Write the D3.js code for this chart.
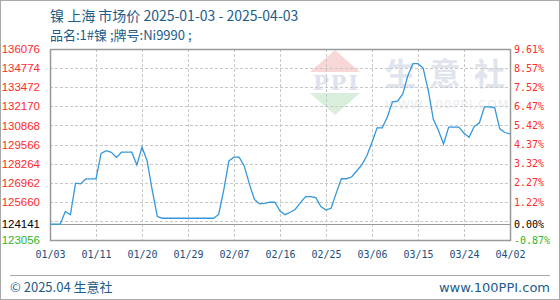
<!DOCTYPE html>
<html>
<head>
<meta charset="utf-8">
<script src="https://cdn.jsdelivr.net/npm/d3@7/dist/d3.min.js"></script>
<style>
  html, body { margin: 0; padding: 0; background: #fff; }
  svg { display: block; }
</style>
</head>
<body>
<div id="chart"></div>
<script>
// x categories: one point per day, labelled every 9th point
var tickLabels = ["01/03", "01/11", "01/20", "01/29", "02/07", "02/16", "02/25", "03/06", "03/15", "03/24", "04/02"];
var priceValues = [
  124141, 124141, 124141, 125000, 124780, 126927, 126880, 127220, 127220, 127220,
  128960, 129150, 129030, 128690, 129043, 129043, 129043, 128176, 129385, 128450,
  126450, 124650, 124540, 124540, 124540, 124540, 124540, 124540, 124540, 124540,
  124540, 124540, 124540, 124800, 126470, 128450, 128700, 128700, 128108, 126879,
  125821, 125514, 125548, 125630, 125630, 125036, 124783, 124947, 125152, 125602,
  126012, 126012, 125944, 125330, 125104, 125220, 126250, 127233, 127233, 127348,
  127760, 128176, 128797, 129716, 130705, 130705, 131440, 132475, 132521, 133000,
  134245, 135073, 135073, 134774, 133280, 131280, 130521, 129600, 130751, 130751,
  130751, 130337, 130061, 130797, 131027, 132130, 132130, 132084, 130636, 130383,
  130291
];
var basePrice = 124141;
var leftTicks = [136076, 134774, 133472, 132170, 130868, 129566, 128264, 126962, 125660, 124141, 123056];
var rightTicks = ["9.61%", "8.57%", "7.52%", "6.47%", "5.42%", "4.37%", "3.32%", "2.27%", "1.22%", "0.00%", "-0.87%"];
var gridValues = [134774, 133472, 132170, 130868, 129566, 128264, 126962, 125660, 124358];

var width = 560, height = 300;
var margin = { top: 49, right: 50, bottom: 60, left: 50 };

var svg = d3.select("#chart").append("svg")
    .attr("width", width)
    .attr("height", height);

// outer frame
svg.append("rect")
    .attr("x", 0.5).attr("y", 0.5)
    .attr("width", width - 1).attr("height", height - 1)
    .attr("fill", "#fff")
    .attr("stroke", "#a8a8a8");

var x = d3.scaleLinear()
    .domain([0, priceValues.length - 1])
    .range([margin.left, width - margin.right]);
var y = d3.scaleLinear()
    .domain([123056, 136076])
    .range([height - margin.bottom, margin.top]);

var colorFor = function (v) {
    return v > basePrice ? "#ff2a2a" : (v < basePrice ? "#2db52d" : "#000");
};

// watermark
var wm = svg.append("g");
wm.append("path")
    .attr("d", "M335,50 L360,72 L310,72 Z")
    .attr("fill", "#f8d8d6");
wm.append("text")
    .attr("x", 313).attr("y", 90)
    .attr("textLength", 45)
    .style("font", "bold 21px 'DejaVu Serif'")
    .attr("fill", "#dde2ee")
    .text("PPI");
wm.append("path")
    .attr("d", "M310,93 L360,93 L335,115 Z")
    .attr("fill", "#d9eedb");
wm.append("text")
    .attr("x", 385).attr("y", 85)
    .attr("textLength", 120)
    .style("font", "bold 31px 'Noto Sans CJK SC'")
    .attr("fill", "#e0e4ed")
    .text("生意社");
wm.append("text")
    .attr("x", 385).attr("y", 109)
    .attr("textLength", 123)
    .style("font", "12px 'DejaVu Sans'")
    .attr("fill", "#eaedf2")
    .text("WWW.100PPI.COM");

// horizontal dashed grid
svg.append("g")
    .selectAll("line")
    .data(gridValues)
    .join("line")
    .attr("x1", margin.left).attr("x2", width - margin.right)
    .attr("y1", function (d) { return Math.round(y(d)) + 0.5; })
    .attr("y2", function (d) { return Math.round(y(d)) + 0.5; })
    .attr("stroke", "#c8c8c8")
    .attr("stroke-dasharray", "3,2");

// vertical dashed grid
var tickIdx = tickLabels.map(function (d, i) { return i * 9; });
svg.append("g")
    .selectAll("line")
    .data(tickIdx.slice(1, -1))
    .join("line")
    .attr("x1", function (d) { return Math.round(x(d)) + 0.5; })
    .attr("x2", function (d) { return Math.round(x(d)) + 0.5; })
    .attr("y1", margin.top).attr("y2", height - margin.bottom)
    .attr("stroke", "#c8c8c8")
    .attr("stroke-dasharray", "3,2");

// base line
svg.append("line")
    .attr("x1", margin.left).attr("x2", width - margin.right)
    .attr("y1", Math.round(y(basePrice)) + 0.5)
    .attr("y2", Math.round(y(basePrice)) + 0.5)
    .attr("stroke", "#999");

// plot frame
svg.append("rect")
    .attr("x", margin.left + 0.5).attr("y", margin.top + 0.5)
    .attr("width", width - margin.left - margin.right)
    .attr("height", height - margin.top - margin.bottom)
    .attr("fill", "none")
    .attr("stroke", "#999")
    .attr("stroke-width", 1.5);

// left axis
var yAxisLeft = function (g) { return g
    .attr("transform", "translate(" + margin.left + ",0)")
    .call(d3.axisLeft(y).tickValues(leftTicks).tickSize(0).tickPadding(10).tickFormat(d3.format("d")))
    .call(function (g) { return g.select(".domain").remove(); })
    .selectAll("text")
    .style("font", "11.5px 'Liberation Sans'")
    .attr("fill", function (d) { return colorFor(d); }); };
svg.append("g").call(yAxisLeft);

// right axis
var yAxisRight = function (g) { return g
    .attr("transform", "translate(" + (width - margin.right) + ",0)")
    .call(d3.axisRight(y).tickValues(leftTicks).tickSize(0).tickPadding(4)
        .tickFormat(function (d, i) { return rightTicks[i]; }))
    .call(function (g) { return g.select(".domain").remove(); })
    .selectAll("text")
    .style("font", "10px 'DejaVu Sans Mono'")
    .attr("fill", function (d) { return colorFor(d); }); };
svg.append("g").call(yAxisRight);

// bottom axis
var xAxis = function (g) { return g
    .attr("transform", "translate(0," + (height - margin.bottom) + ")")
    .call(d3.axisBottom(x).tickValues(tickIdx).tickSize(0).tickPadding(11)
        .tickFormat(function (d, i) { return tickLabels[i]; }))
    .call(function (g) { return g.select(".domain").remove(); })
    .selectAll("text")
    .style("font", "10px 'DejaVu Sans Mono'")
    .attr("fill", "#1b4f7a"); };
svg.append("g").call(xAxis);

// price line
var line = d3.line()
    .x(function (d, i) { return x(i); })
    .y(function (d) { return y(d); });
svg.append("path")
    .datum(priceValues)
    .attr("fill", "none")
    .attr("stroke", "#3497db")
    .attr("stroke-width", 1.3)
    .attr("d", line);

// titles
svg.append("text")
    .attr("x", 50).attr("y", 21)
    .style("font", "14px 'Noto Sans CJK SC'")
    .attr("fill", "#1d5c8a")
    .text("镍 上海 市场价 2025-01-03 - 2025-04-03");
svg.append("text")
    .attr("x", 50).attr("y", 40)
    .style("font", "13px 'Noto Sans CJK SC'")
    .attr("fill", "#1d5c8a")
    .text("品名:1#镍 ;牌号:Ni9990 ;");

// footer
svg.append("line")
    .attr("x1", 10).attr("x2", 550)
    .attr("y1", 275.5).attr("y2", 275.5)
    .attr("stroke", "#a8a8a8");
svg.append("text")
    .attr("x", 10).attr("y", 292)
    .style("font", "13px 'Noto Sans CJK SC'")
    .attr("fill", "#1d5c8a")
    .text("© 2025.04 生意社");
svg.append("text")
    .attr("x", 550).attr("y", 292)
    .attr("text-anchor", "end")
    .style("font", "13px 'DejaVu Sans'")
    .attr("fill", "#1d5c8a")
    .text("www.100PPI.com");
</script>
</body>
</html>
